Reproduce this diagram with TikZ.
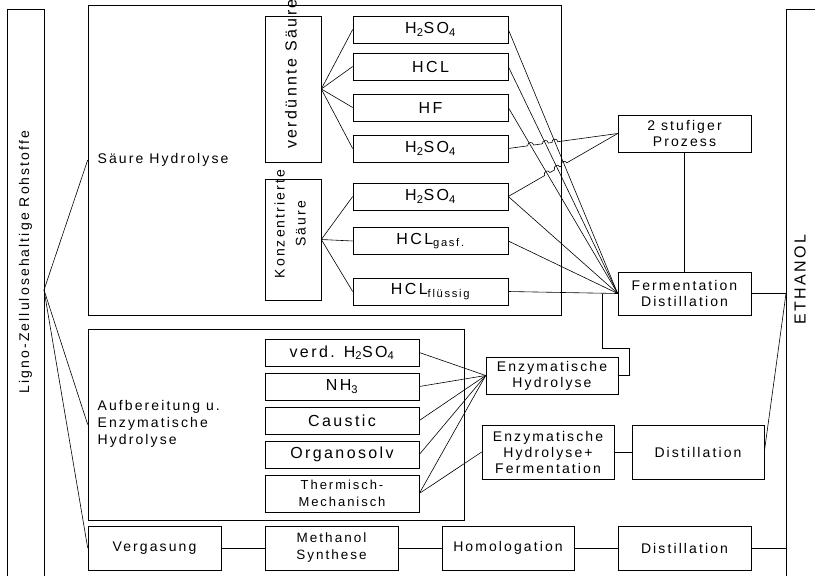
\documentclass[tikz,border=0pt]{standalone}
\usepackage{fontspec}
\setmainfont{Liberation Sans}[LetterSpace=15]
\usetikzlibrary{calc}
\begin{document}
\begin{tikzpicture}[x=1pt,y=-1pt,line width=0.6pt,
  font=\fontsize{14}{16}\selectfont,
  box/.style={draw, inner sep=0pt, align=center},
  acid/.style={box, minimum width=155, minimum height=27, font=\fontsize{16}{18}\selectfont},
  pre/.style={box, minimum width=154, minimum height=27, font=\fontsize{16}{18}\selectfont},
  stage/.style={box, minimum width=133, minimum height=44},
  hop/.style={bend left=90, looseness=1.7}]
  \useasboundingbox (0,0) rectangle (815,576);

  % Rohstoffe and Ethanol
  \node[box, minimum width=37, minimum height=571] (rohbox) at (25.5,294.5) {};
  \node[rotate=90] (roh) at (25.5,262) {Ligno-Zellulosehaltige Rohstoffe};
  \coordinate (rohfan) at (44,290);
  \node[box, minimum width=40, minimum height=571] (ethbox) at (806,294.5) {};
  \node[rotate=90, font=\fontsize{16}{18}\selectfont] (eth) at (800,280) {ETHANOL};
  \coordinate (ethin) at (786,293.5);
  \coordinate (ethin2) at (786,548);

  % Saeure Hydrolyse
  \node[box, minimum width=473, minimum height=310] (saeure) at (324.5,160) {};
  \node[anchor=west] (saeurelbl) at (94,160) {Säure Hydrolyse};
  \node[box, minimum width=56, minimum height=146] (verd) at (293,89) {};
  \node[rotate=90, font=\fontsize{16}{18}\selectfont] (verdlbl) at (291,74) {verdünnte Säure};
  \node[box, minimum width=56, minimum height=121] (konz) at (293,239.5) {};
  \node[rotate=90, align=center, font=\fontsize{14}{21}\selectfont] (konzlbl) at (290,224) {Konzentrierte\\Säure};

  \node[acid] (sa) at (430.5,29.5) {H\textsubscript{2}SO\textsubscript{4}};
  \node[acid] (hcl) at (430.5,66.5) {HCL};
  \node[acid] (hf) at (430.5,107.5) {HF};
  \node[acid] (sb) at (430.5,148.5) {H\textsubscript{2}SO\textsubscript{4}};
  \node[acid] (sc) at (430.5,196.5) {H\textsubscript{2}SO\textsubscript{4}};
  \node[acid] (hclgas) at (430.5,241) {HCL\textsubscript{gasf.}};
  \node[acid] (hclfl) at (430.5,291.5) {HCL\textsubscript{flüssig}};

  \node[box, minimum width=133, minimum height=37] (stufig) at (684.5,133.5) {2 stufiger\\Prozess};
  \node[box, minimum width=133, minimum height=43] (ferm) at (684.5,293.5) {Fermentation\\Distillation};

  % Aufbereitung u. Enzymatische Hydrolyse
  \node[box, minimum width=376, minimum height=191] (aufb) at (276,424.5) {};
  \node[anchor=west, align=left, font=\fontsize{14}{17}\selectfont] (aufblbl) at (94,424) {Aufbereitung u.\\Enzymatische\\Hydrolyse};
  \node[pre] (vh) at (342,352.5) {verd. H\textsubscript{2}SO\textsubscript{4}};
  \node[pre] (nh) at (342,386.5) {NH\textsubscript{3}};
  \node[pre] (caustic) at (342,420.5) {Caustic};
  \node[pre] (organo) at (342,454.5) {Organosolv};
  \node[pre, minimum height=37, font=\fontsize{13}{17}\selectfont] (thermo) at (342,493.5) {Thermisch-\\Mechanisch};

  \node[box, minimum width=132, minimum height=37] (enzhyd) at (552,375.5) {Enzymatische\\Hydrolyse};
  \node[box, minimum width=132, minimum height=54] (enzferm) at (548,452) {Enzymatische\\Hydrolyse+\\Fermentation};
  \node[box, minimum width=132, minimum height=54] (dista) at (698,452) {Distillation};

  % Vergasung
  \node[stage] (verg) at (154.5,548) {Vergasung};
  \node[stage, font=\fontsize{13.5}{17}\selectfont] (meth) at (331.5,548) {Methanol\\Synthese};
  \node[stage, minimum width=132] (homol) at (508,548) {Homologation};
  \node[stage] (distb) at (684.5,548) {Distillation};

  % connectors
  \draw (rohfan) -- (saeure.west);
  \draw (rohfan) -- (aufb.west);
  \draw (rohfan) -- (verg.west);
  \foreach \n in {sa,hcl,hf,sb}
    \draw (verd.east) -- (\n.west);
  \foreach \n in {sc,hclgas,hclfl}
    \draw (konz.east) -- (\n.west);
  \foreach \n in {sa,hcl,hf,sc,hclgas,hclfl}
    \draw (\n.east) -- (ferm.west);
  % lines to the 2 stufiger Prozess hop over the others
  \draw (sb.east) -- ($(sb.east)!0.177!(stufig.west)$) to[hop] ($(sb.east)!0.231!(stufig.west)$)
    -- ($(sb.east)!0.312!(stufig.west)$) to[hop] ($(sb.east)!0.366!(stufig.west)$)
    -- ($(sb.east)!0.399!(stufig.west)$) to[hop] ($(sb.east)!0.453!(stufig.west)$) -- (stufig.west);
  \draw (sc.east) -- ($(sc.east)!0.333!(stufig.west)$) to[hop] ($(sc.east)!0.381!(stufig.west)$)
    -- ($(sc.east)!0.424!(stufig.west)$) to[hop] ($(sc.east)!0.472!(stufig.west)$)
    -- ($(sc.east)!0.487!(stufig.west)$) to[hop] ($(sc.east)!0.535!(stufig.west)$) -- (stufig.west);
  \draw (stufig.south) -- (ferm.north);
  \draw (ferm.east) -- (ethin);
  \coordinate (enzup) at (602,293.5);
  \draw (enzhyd.east) -- ++(11,0) |- (602,348) -- (enzup);
  \foreach \n in {vh,nh,caustic,organo,thermo}
    \draw (\n.east) -- (enzhyd.west);
  \draw (thermo.east) -- (enzferm.west);
  \draw (enzferm.east) -- (dista.west);
  \draw (dista.east) -- (ethin);
  \draw (verg) -- (meth) -- (homol) -- (distb);
  \draw (distb.east) -- (ethin2);
\end{tikzpicture}
\end{document}
